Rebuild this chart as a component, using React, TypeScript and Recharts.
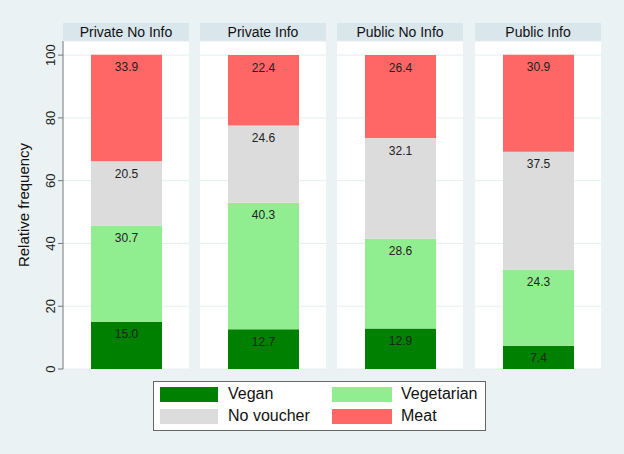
import React from 'react';
import { BarChart, Bar, XAxis, YAxis, CartesianGrid, LabelList } from 'recharts';

const panels = ['Private No Info', 'Private Info', 'Public No Info', 'Public Info'];
const vegan = [15.0, 12.7, 12.9, 7.4];
const vegetarian = [30.7, 40.3, 28.6, 24.3];
const noVoucher = [20.5, 24.6, 32.1, 37.5];
const meat = [33.9, 22.4, 26.4, 30.9];
const yTicks = [0, 20, 40, 60, 80, 100];

const series = [
	{ key: 'vegan', name: 'Vegan', color: '#008000' },
	{ key: 'vegetarian', name: 'Vegetarian', color: '#90ee90' },
	{ key: 'noVoucher', name: 'No voucher', color: '#dcdcdc' },
	{ key: 'meat', name: 'Meat', color: '#ff6666' },
];

const font = '"Liberation Sans", Arial, sans-serif';
const panelLeft = [63, 200, 337, 475];
const panelWidth = 126;

const YTick = (props: any) => {
	const { x, y, payload } = props;
	return (
		<text
			x={x - 1}
			y={y}
			transform={`rotate(-90, ${x - 1}, ${y})`}
			textAnchor="middle"
			fontSize={13}
			fill="#222"
			fontFamily={font}
		>
			{payload.value}
		</text>
	);
};

const Panel = ({ index }: { index: number }) => {
	const first = index === 0;
	const data = [
		{
			name: panels[index],
			vegan: vegan[index],
			vegetarian: vegetarian[index],
			noVoucher: noVoucher[index],
			meat: meat[index],
		},
	];
	const width = first ? panelLeft[0] + panelWidth : panelWidth;
	return (
		<div style={{ position: 'absolute', left: first ? 0 : panelLeft[index], top: 23, width, height: 357 }}>
			<BarChart
				width={width}
				height={357}
				data={data}
				margin={{ top: 18, right: 0, bottom: 11, left: 0 }}
				barSize={71}
			>
				<CartesianGrid vertical={false} stroke="#e6eef1" fill="#ffffff" />
				<XAxis dataKey="name" hide />
				<YAxis
					hide={!first}
					width={63}
					domain={[0, 104.5]}
					ticks={yTicks}
					allowDataOverflow
					stroke="#777"
					tickSize={5}
					tick={<YTick />}
					label={{
						content: () => (
							<text
								x={29}
								y={205 - 23}
								transform={`rotate(-90, 29, ${205 - 23})`}
								textAnchor="middle"
								fontSize={15}
								fill="#111"
								fontFamily={font}
							>
								Relative frequency
							</text>
						),
					}}
				/>
				{series.map((s) => (
					<Bar key={s.key} dataKey={s.key} stackId="a" fill={s.color} isAnimationActive={false}>
						<LabelList
							dataKey={s.key}
							position="insideTop"
							offset={8}
							fontSize={12}
							fill="#222"
							fontFamily={font}
							formatter={(v: any) => Number(v).toFixed(1)}
						/>
					</Bar>
				))}
			</BarChart>
		</div>
	);
};

export default function App() {
	return (
		<div
			style={{
				position: 'absolute',
				left: 0,
				top: 0,
				width: 624,
				height: 454,
				background: '#eaf2f3',
				fontFamily: font,
				overflow: 'hidden',
			}}
		>
			{panels.map((p, i) => (
				<div
					key={p}
					style={{
						position: 'absolute',
						left: panelLeft[i],
						top: 23,
						width: panelWidth,
						height: 18,
						background: '#d9e6ec',
						textAlign: 'center',
						fontSize: 14,
						lineHeight: '18px',
						color: '#111',
					}}
				>
					{p}
				</div>
			))}
			{panels.map((p, i) => (
				<Panel key={p} index={i} />
			))}
			<div
				style={{
					position: 'absolute',
					left: 153,
					top: 381,
					width: 331,
					height: 48,
					background: '#fff',
					border: '1px solid #666',
				}}
			>
				{series.map((s, i) => {
					const col = i % 2;
					const row = Math.floor(i / 2);
					return (
						<div key={s.key}>
							<div
								style={{
									position: 'absolute',
									left: col === 0 ? 6 : 178,
									top: row === 0 ? 5 : 27,
									width: col === 0 ? 58 : 60,
									height: 15,
									background: s.color,
								}}
							/>
							<div
								style={{
									position: 'absolute',
									left: col === 0 ? 74 : 247,
									top: row === 0 ? 3 : 25,
									fontSize: 16,
									lineHeight: '18px',
									color: '#111',
									whiteSpace: 'nowrap',
								}}
							>
								{s.name}
							</div>
						</div>
					);
				})}
			</div>
		</div>
	);
}
